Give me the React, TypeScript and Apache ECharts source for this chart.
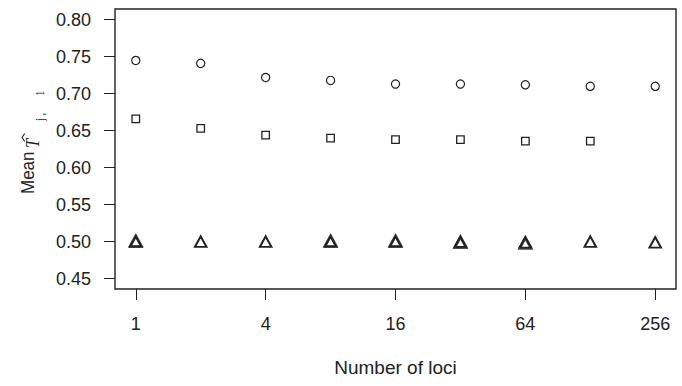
import React, { useEffect, useRef } from "react";
import * as echarts from "echarts";

const loci = [1, 2, 4, 8, 16, 32, 64, 128, 256];
const circleValues = [0.745, 0.741, 0.722, 0.718, 0.713, 0.713, 0.712, 0.710, 0.710];
const squareValues = [0.666, 0.653, 0.644, 0.640, 0.638, 0.638, 0.636, 0.636, null];
const triangleValuesA = [0.500, 0.500, 0.500, 0.500, 0.500, 0.500, 0.499, 0.500, 0.499];
const triangleValuesB = [0.501, null, null, 0.501, 0.501, 0.499, 0.498, null, null];
const yTicks = [0.45, 0.5, 0.55, 0.6, 0.65, 0.7, 0.75, 0.8];
const xTickLoci = [1, 4, 16, 64, 256];

const ink = "#222";
const font = "'Liberation Sans', Arial, Helvetica, sans-serif";
const serif = "'Liberation Serif', 'DejaVu Serif', serif";

function pairs(vals: (number | null)[]) {
  const out: [number, number][] = [];
  vals.forEach((v, i) => {
    if (v !== null) out.push([Math.log2(loci[i]), v]);
  });
  return out;
}

export default function App() {
  const ref = useRef<HTMLDivElement>(null);
  useEffect(() => {
    if (!ref.current) return;
    const chart = echarts.init(ref.current, undefined, { renderer: "svg" });
    const hollow = (bw: number) => ({ color: "#fff", borderColor: ink, borderWidth: bw, opacity: 1 });
    const t = (text: string, x: number, y: number, f: string) => ({
      type: "text",
      x,
      y,
      style: { text, font: f, fill: ink, textAlign: "left", textVerticalAlign: "bottom" },
    });
    chart.setOption({
      animation: false,
      backgroundColor: "#fff",
      grid: { left: 115, right: 6, top: 9, bottom: 97, show: true, borderColor: ink, borderWidth: 1.4, backgroundColor: "transparent" },
      xAxis: {
        type: "value",
        min: -0.32,
        max: 8.32,
        name: "Number of loci",
        nameLocation: "middle",
        nameGap: 69,
        nameTextStyle: { color: ink, fontSize: 19, fontFamily: font, verticalAlign: "top" },
        axisLine: { show: false, onZero: false },
        splitLine: { show: false },
        axisTick: { show: true, inside: false, length: 11, lineStyle: { color: ink, width: 1 }, customValues: xTickLoci.map((v) => Math.log2(v)) },
        axisLabel: { show: true, margin: 26, color: ink, fontSize: 18, fontFamily: font, customValues: xTickLoci.map((v) => Math.log2(v)), formatter: (v: number) => String(Math.round(Math.pow(2, v))) },
      },
      yAxis: {
        type: "value",
        min: 0.436,
        max: 0.8145,
        axisLine: { show: false, onZero: false },
        splitLine: { show: false },
        axisTick: { show: true, inside: false, length: 11, lineStyle: { color: ink, width: 1 }, customValues: yTicks },
        axisLabel: { show: true, margin: 24, color: ink, fontSize: 18, fontFamily: font, customValues: yTicks, formatter: (v: number) => v.toFixed(2) },
      },
      graphic: [
        {
          type: "group",
          x: 37,
          y: 194,
          rotation: Math.PI / 2,
          scaleY: 1.1,
          children: [
            t("Mean", 0, 0, `17px ${font}`),
            t("T", 46, 5.5, `italic 16.5px ${serif}`),
            { type: "polyline", shape: { points: [[52.5, -11.2], [56.5, -13.6], [60.5, -11.2]] }, style: { stroke: ink, lineWidth: 1, fill: "none" } },
            t("j", 73, 8.5, `11px ${serif}`),
            t(",", 78.5, 8.5, `11px ${serif}`),
            t("1", 98, 8.5, `11px ${serif}`),
          ],
        },
      ],
      series: [
        { type: "scatter", data: pairs(circleValues), symbol: "circle", symbolSize: 8.2, itemStyle: hollow(1.2) },
        { type: "scatter", data: pairs(squareValues), symbol: "rect", symbolSize: 7.5, itemStyle: hollow(1.3) },
        { type: "scatter", data: pairs(triangleValuesA), symbol: "triangle", symbolSize: [11.5, 10.5], itemStyle: hollow(2) },
        { type: "scatter", data: pairs(triangleValuesB), symbol: "triangle", symbolSize: [11.5, 10.5], itemStyle: { color: "none", borderColor: ink, borderWidth: 2.6 } },
      ],
    });
    return () => chart.dispose();
  }, []);
  return <div ref={ref} style={{ position: "fixed", left: 0, top: 0, width: 682, height: 386, background: "#fff" }} />;
}
